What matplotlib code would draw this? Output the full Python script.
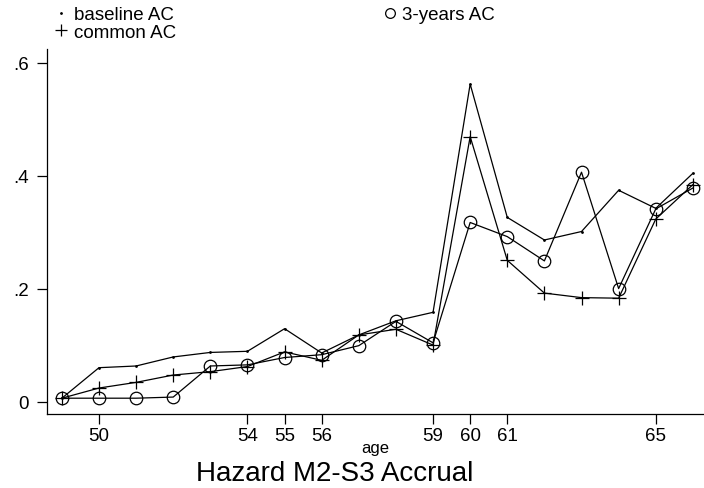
import matplotlib
matplotlib.use("Agg")
import matplotlib.pyplot as plt
from matplotlib.lines import Line2D

#------------------------------------------------------------------------------
# data
age = [49, 50, 51, 52, 53, 54, 55, 56, 57, 58, 59, 60, 61, 62, 63, 64, 65, 66]
baseline = [0.006, 0.060, 0.063, 0.079, 0.087, 0.089, 0.129, 0.086, 0.118,
            0.143, 0.158, 0.562, 0.326, 0.286, 0.301, 0.374, 0.342, 0.404]
common = [0.006, 0.024, 0.034, 0.047, 0.053, 0.062, 0.088, 0.073, 0.118,
          0.128, 0.100, 0.469, 0.250, 0.192, 0.184, 0.183, 0.323, 0.384]
years3 = [0.006, 0.006, 0.006, 0.008, 0.063, 0.065, 0.078, 0.083, 0.099,
          0.142, 0.104, 0.317, 0.292, 0.249, 0.406, 0.200, 0.341, 0.378]
xticks = [50, 54, 55, 56, 59, 60, 61, 65]
yticks = [0, 0.2, 0.4, 0.6]
ylabels = ['0', '.2', '.4', '.6']
#------------------------------------------------------------------------------
plt.rcParams['font.family'] = ['Liberation Sans', 'DejaVu Sans']

fig = plt.figure(figsize=(7.04, 4.89), dpi=100)
ax = fig.add_axes([0.0668, 0.1513, 0.9332, 0.7464])

ax.plot(age, baseline, color='k', lw=0.9, marker='.', markersize=2)
ax.plot(age, common, color='k', lw=0.9, marker='+', markersize=10, mew=0.9)
ax.plot(age, years3, color='k', lw=0.9, marker='o', markersize=9,
        mfc='none', mew=0.9)

ax.set_xlim(48.6, 66.3)
ax.set_ylim(-0.022, 0.624)
ax.spines['top'].set_visible(False)
ax.spines['right'].set_visible(False)
for s in ['left', 'bottom']:
    ax.spines[s].set_linewidth(0.9)

ax.set_xticks(xticks)
ax.set_yticks(yticks)
ax.set_yticklabels(ylabels)
ax.tick_params(axis='both', direction='out', length=7, width=0.9,
               labelsize=13.5)
ax.tick_params(axis='x', pad=2)
ax.tick_params(axis='y', pad=6)

ax.set_xlabel('age', fontsize=12)
ax.xaxis.set_label_coords(0.5, -0.092)
ax.xaxis.label.set_va('center')

fig.text(0.476, 0.031, 'Hazard M2-S3 Accrual', fontsize=20,
         ha='center', va='center')

# legend: marker only handles, Stata style
h1 = Line2D([], [], ls='none', color='k', marker='.', markersize=2)
h2 = Line2D([], [], ls='none', color='k', marker='+', markersize=9, mew=0.9)
h3 = Line2D([], [], ls='none', color='k', marker='o', markersize=7,
            mfc='none', mew=0.9)
fig.legend([h1, h2, h3], ['baseline AC', 'common AC', '3-years AC'],
           ncol=2, loc='upper left', bbox_to_anchor=(0.058, 1.012),
           frameon=False, fontsize=13.5, handlelength=0.8, handletextpad=0.25,
           labelspacing=0.0, columnspacing=11.0, borderpad=0.2)

fig.savefig('out.png', dpi=100)
